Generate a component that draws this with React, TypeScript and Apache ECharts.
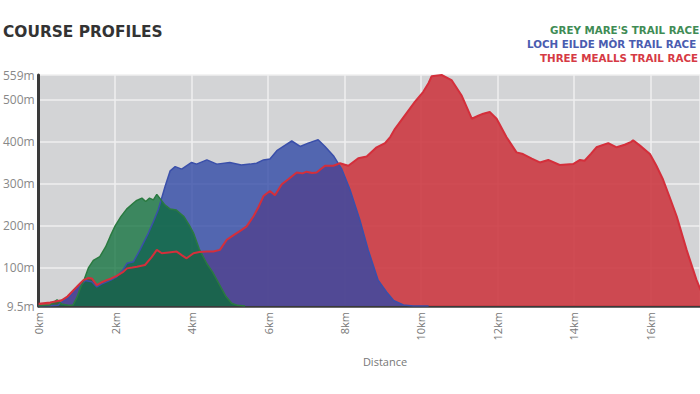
import React, { useEffect, useRef } from "react";
import * as echarts from "echarts";

const greyMareKm = [0, 0.3, 0.48, 0.6, 0.8, 0.9, 1.0, 1.1, 1.2, 1.3, 1.43, 1.6, 1.75, 1.87, 2.0, 2.15, 2.3, 2.45, 2.55, 2.7, 2.8, 2.9, 3.0, 3.09, 3.2, 3.3, 3.44, 3.6, 3.8, 3.95, 4.05, 4.2, 4.4, 4.55, 4.7, 4.9, 5.05, 5.2, 5.4];
const greyMareM = [10, 12, 24, 14, 11, 12, 30, 55, 75, 100, 118, 127, 150, 175, 200, 222, 240, 252, 260, 266, 258, 266, 262, 275, 262, 250, 240, 238, 222, 200, 183, 145, 110, 90, 65, 32, 16, 11, 9.5];

const lochEildeKm = [0, 0.3, 0.5, 0.65, 0.8, 0.91, 1.05, 1.22, 1.39, 1.52, 1.65, 1.78, 1.9, 2.04, 2.2, 2.31, 2.48, 2.65, 2.87, 3.0, 3.13, 3.31, 3.44, 3.57, 3.74, 4.0, 4.13, 4.4, 4.66, 5.0, 5.3, 5.53, 5.7, 5.88, 6.05, 6.23, 6.4, 6.62, 6.84, 7.05, 7.31, 7.49, 7.71, 7.93, 8.14, 8.4, 8.62, 8.88, 9.1, 9.28, 9.54, 9.8, 10.2];
const lochEildeM = [10, 10, 11, 22, 30, 43, 55, 70, 67, 55, 62, 67, 72, 79, 95, 111, 115, 143, 183, 210, 239, 295, 331, 341, 335, 351, 347, 357, 347, 351, 345, 347, 349, 357, 359, 379, 389, 402, 389, 397, 405, 389, 367, 335, 287, 215, 143, 71, 43, 23, 12, 9.5, 9.5];

const threeMeallsKm = [0, 0.3, 0.6, 0.75, 0.91, 1.05, 1.17, 1.3, 1.39, 1.52, 1.65, 1.78, 1.9, 2.04, 2.2, 2.31, 2.45, 2.57, 2.78, 2.95, 3.09, 3.22, 3.4, 3.61, 3.75, 3.87, 4.05, 4.2, 4.4, 4.57, 4.74, 4.92, 5.05, 5.18, 5.3, 5.44, 5.62, 5.75, 5.88, 6.05, 6.18, 6.36, 6.53, 6.75, 6.9, 7.01, 7.15, 7.27, 7.49, 7.71, 7.88, 8.1, 8.36, 8.58, 8.84, 9.06, 9.2, 9.32, 9.58, 9.84, 10.06, 10.2, 10.28, 10.54, 10.8, 11.06, 11.33, 11.5, 11.63, 11.8, 11.98, 12.24, 12.5, 12.67, 12.9, 13.11, 13.33, 13.63, 13.98, 14.16, 14.28, 14.45, 14.59, 14.9, 15.12, 15.33, 15.5, 15.55, 15.73, 15.99, 16.15, 16.33, 16.5, 16.69, 16.95, 17.21, 17.4, 17.6];
const threeMeallsM = [15, 18, 23, 32, 47, 60, 71, 76, 75, 59, 66, 71, 75, 81, 90, 99, 101, 103, 107, 125, 143, 135, 137, 139, 130, 123, 135, 138, 139, 139, 143, 167, 175, 183, 190, 199, 223, 245, 271, 283, 273, 299, 311, 327, 325, 329, 326, 327, 343, 343, 349, 343, 361, 365, 387, 397, 412, 431, 463, 495, 519, 540, 556, 559, 547, 511, 455, 462, 467, 471, 455, 411, 375, 371, 360, 351, 357, 345, 347, 357, 355, 372, 387, 397, 387, 393, 400, 404, 391, 371, 345, 311, 270, 223, 143, 71, 30, 12];

const raceNames = ["GREY MARE'S TRAIL RACE", "LOCH EILDE MÒR TRAIL RACE", "THREE MEALLS TRAIL RACE"];
const titleText = "COURSE PROFILES";
const xAxisTitle = "Distance";

const pairs = (xs: number[], ys: number[]) => xs.map((x, i) => [x, ys[i]]);

export default function App() {
  const ref = useRef<HTMLDivElement>(null);
  useEffect(() => {
    if (!ref.current) return;
    const chart = echarts.init(ref.current, null, { renderer: "svg" });
    const font = "'Open Sans', 'DejaVu Sans', sans-serif";
    const wide = "'DejaVu Sans', sans-serif";
    const green = pairs(greyMareKm, greyMareM);
    const blue = pairs(lochEildeKm, lochEildeM);
    const red = pairs(threeMeallsKm, threeMeallsM);
    const areaSeries = (name: string, data: number[][], color: string, opacity: number) => ({
      type: "line",
      name,
      data,
      showSymbol: false,
      silent: true,
      lineStyle: { width: 0 },
      areaStyle: { color, opacity, origin: "start" },
    });
    const lineSeries = (name: string, data: number[][], color: string, width: number) => ({
      type: "line",
      name: name + " line",
      data,
      showSymbol: false,
      silent: true,
      lineStyle: { width, color },
    });
    chart.setOption({
      animation: false,
      backgroundColor: "#ffffff",
      textStyle: { fontFamily: font },
      grid: {
        left: 38,
        top: 75,
        right: 0,
        bottom: 88,
        show: true,
        backgroundColor: "#d3d4d6",
        borderWidth: 0,
      },
      xAxis: {
        type: "value",
        min: 0,
        max: 17.3,
        interval: 2,
        axisLine: { show: true, onZero: false, lineStyle: { color: "#3a3a3a", width: 2.5 } },
        axisTick: { show: false },
        splitLine: { show: true, lineStyle: { color: "#efefef", width: 1.5 } },
        axisLabel: {
          rotate: 90,
          margin: 6,
          color: "#777777",
          fontSize: 11,
          fontFamily: font,
          formatter: (v: number) => (Math.abs(v % 2) < 1e-9 ? v + "km" : ""),
        },
      },
      yAxis: {
        type: "value",
        min: 9.5,
        max: 559,
        splitNumber: 5,
        axisLine: { show: true, lineStyle: { color: "#3a3a3a", width: 3 } },
        axisTick: { show: false },
        splitLine: { show: true, lineStyle: { color: "#efefef", width: 1.5 } },
        axisLabel: {
          margin: 4,
          color: "#888888",
          fontSize: 12,
          fontFamily: font,
          formatter: (v: number) => v + "m",
        },
      },
      graphic: [
        {
          type: "text",
          x: 3,
          y: 31.7,
          style: { text: titleText, font: "bold 15.4px " + wide, fill: "#333333", verticalAlign: "middle" },
        },
        {
          type: "text",
          x: 550,
          y: 30,
          style: { text: raceNames[0], font: "bold 10.3px " + wide, fill: "#3f8c55", verticalAlign: "middle" },
        },
        {
          type: "text",
          x: 527,
          y: 43.5,
          style: { text: raceNames[1], font: "bold 10.3px " + wide, fill: "#4a5cb0", verticalAlign: "middle" },
        },
        {
          type: "text",
          x: 540,
          y: 57.7,
          style: { text: raceNames[2], font: "bold 10.3px " + wide, fill: "#d63a44", verticalAlign: "middle" },
        },
        {
          type: "text",
          x: 385,
          y: 361,
          style: { text: xAxisTitle, font: "11px " + font, fill: "#777777", align: "center", verticalAlign: "middle" },
        },
      ],
      series: [
        areaSeries(raceNames[2], red, "#cc3a42", 0.9),
        areaSeries(raceNames[1], blue, "#324aa6", 0.8),
        areaSeries(raceNames[0], green, "#0a6e37", 0.75),
        lineSeries(raceNames[1], blue, "#3a4faa", 1.5),
        lineSeries(raceNames[0], green, "#2a7a40", 1.5),
        lineSeries(raceNames[2], red, "#d42f3b", 2),
      ],
    });
    return () => chart.dispose();
  }, []);
  return <div ref={ref} style={{ position: "fixed", left: 0, top: 0, width: 700, height: 394 }} />;
}
